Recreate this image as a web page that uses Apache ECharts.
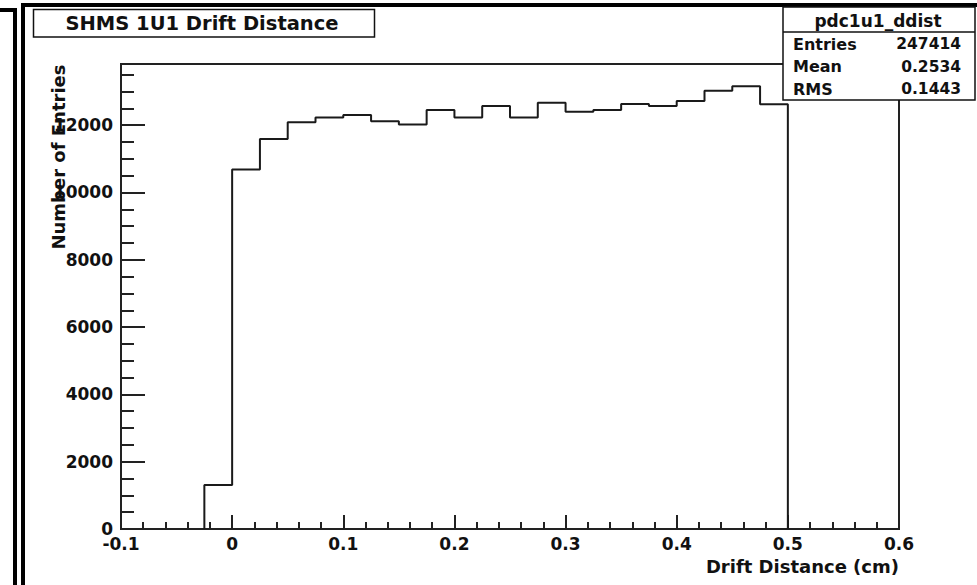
<!DOCTYPE html>
<html>
<head>
<meta charset="utf-8">
<title>SHMS 1U1 Drift Distance</title>
<script src="https://cdn.jsdelivr.net/npm/echarts@6/dist/echarts.min.js"></script>
<style>
  html, body { margin: 0; padding: 0; background: #fff; }
  #chart { width: 977px; height: 585px; }
</style>
</head>
<body>
<div id="chart"></div>
<script>
// Histogram pdc1u1_ddist: lower edge of each filled bin (cm) and its count
const binLowEdges = [-0.025, 0, 0.025, 0.05, 0.075, 0.1, 0.125, 0.15, 0.175, 0.2,
                     0.225, 0.25, 0.275, 0.3, 0.325, 0.35, 0.375, 0.4, 0.425, 0.45, 0.475];
const binUpperEdge = 0.5;
const binCounts = [1310, 10680, 11590, 12090, 12230, 12300, 12120, 12020, 12450, 12230,
                   12570, 12230, 12670, 12400, 12450, 12630, 12570, 12720, 13020, 13160, 12620];

// Axis settings
const xTicks = { min: -0.1, max: 0.6, step: 0.1 };
const yMajorStep = 2000;
const yMinorStep = 500;
const xTitle = 'Drift Distance (cm)';
const yTitle = 'Number of Entries';

// Statistics box contents
const histName = 'pdc1u1_ddist';
const statLabels = ['Entries', 'Mean', 'RMS'];
const statValues = ['247414', '0.2534', '0.1443'];
const titleText = 'SHMS 1U1 Drift Distance';

// Outline of the histogram as a stepped line through the bin edges
const outline = [[binLowEdges[0], 0]];
binLowEdges.forEach((x, i) => outline.push([x, binCounts[i]]));
outline.push([binUpperEdge, 0]);

const yMax = 1.05 * Math.max(...binCounts);

const FONT = 'DejaVu Sans';
const INK = '#111';

const chart = echarts.init(document.getElementById('chart'), null, { renderer: 'svg' });

const statGraphics = [];
statLabels.forEach((lab, i) => {
  const y = 44 + i * 22.5;
  statGraphics.push({
    type: 'text', x: 793, y: y,
    style: { text: lab, fill: INK, font: 'bold 16px "' + FONT + '"', align: 'left', verticalAlign: 'middle' }
  });
  statGraphics.push({
    type: 'text', x: 961, y: y,
    style: { text: statValues[i], fill: INK, font: 'bold 15.5px "' + FONT + '"', align: 'right', verticalAlign: 'middle' }
  });
});

chart.setOption({
  animation: false,
  backgroundColor: '#fff',
  grid: {
    left: 121, right: 78, top: 64, bottom: 56,
    outerBoundsMode: 'none',
    containLabel: false,
    show: true, borderColor: '#222', borderWidth: 2, backgroundColor: 'transparent'
  },
  xAxis: {
    type: 'value',
    min: xTicks.min, max: xTicks.max, interval: xTicks.step,
    axisLine: { show: true, onZero: false, lineStyle: { color: '#222', width: 2 } },
    axisTick: { show: true, inside: true, length: 14, lineStyle: { color: '#222', width: 2 } },
    minorTick: { show: true, splitNumber: 5, length: 7, lineStyle: { color: '#222', width: 2 } },
    splitLine: { show: false },
    minorSplitLine: { show: false },
    axisLabel: {
      color: INK, fontFamily: FONT, fontWeight: 'bold', fontSize: 17, margin: 6,
      formatter: v => String(v)
    },
    name: xTitle,
    nameLocation: 'end',
    nameGap: 0,
    nameTextStyle: {
      color: INK, fontFamily: FONT, fontWeight: 'bold', fontSize: 18,
      align: 'right', verticalAlign: 'top', padding: [28, 0, 0, 0]
    }
  },
  yAxis: [
    {
      type: 'value',
      position: 'left',
      min: 0, max: yMax, interval: yMajorStep,
      axisLine: { show: true, onZero: false, lineStyle: { color: '#222', width: 2 } },
      axisTick: { show: true, inside: true, length: 24, lineStyle: { color: '#222', width: 2 } },
      splitLine: { show: false },
      axisLabel: {
        color: INK, fontFamily: FONT, fontWeight: 'bold', fontSize: 17, margin: 8,
        showMaxLabel: false, formatter: v => String(v)
      }
    },
    {
      type: 'value',
      position: 'left',
      offset: 0,
      min: 0, max: yMax, interval: yMinorStep,
      axisLine: { show: false, onZero: false },
      axisTick: { show: true, inside: true, length: 13, lineStyle: { color: '#222', width: 2 } },
      splitLine: { show: false },
      axisLabel: { show: false }
    }
  ],
  series: [{
    type: 'line',
    step: 'end',
    data: outline,
    xAxisIndex: 0,
    yAxisIndex: 0,
    symbol: 'none',
    lineStyle: { color: '#1a1a1a', width: 2 },
    silent: true
  }],
  graphic: [
    // canvas border bars
    { type: 'rect', shape: { x: 13, y: 8, width: 4, height: 577 }, style: { fill: '#000' } },
    { type: 'rect', shape: { x: 0, y: 8, width: 17, height: 4 }, style: { fill: '#000' } },
    { type: 'rect', shape: { x: 21, y: 3, width: 4, height: 582 }, style: { fill: '#000' } },
    { type: 'rect', shape: { x: 21, y: 3, width: 956, height: 4 }, style: { fill: '#000' } },
    // y axis title, reading upward, ending near the top of the frame
    { type: 'text', x: 58, y: 157, rotation: Math.PI / 2, z: 10,
      style: { text: yTitle, fill: INK, font: 'bold 18px "' + FONT + '"', align: 'center', verticalAlign: 'middle' } },
    // title box
    { type: 'rect', shape: { x: 33.5, y: 9.5, width: 341, height: 27.5 },
      style: { fill: '#fff', stroke: '#111', lineWidth: 1.5 } },
    { type: 'text', x: 202, y: 23.5,
      style: { text: titleText, fill: INK, font: 'bold 19.5px "' + FONT + '"', align: 'center', verticalAlign: 'middle' } },
    // statistics box
    { type: 'rect', shape: { x: 783, y: 7, width: 192, height: 93 },
      style: { fill: '#fff', stroke: '#111', lineWidth: 1.5 } },
    { type: 'line', shape: { x1: 783, y1: 32, x2: 975, y2: 32 }, style: { stroke: '#111', lineWidth: 1.5 } },
    { type: 'text', x: 878, y: 21,
      style: { text: histName, fill: INK, font: 'bold 17px "' + FONT + '"', align: 'center', verticalAlign: 'middle' } }
  ].concat(statGraphics)
});
</script>
</body>
</html>
